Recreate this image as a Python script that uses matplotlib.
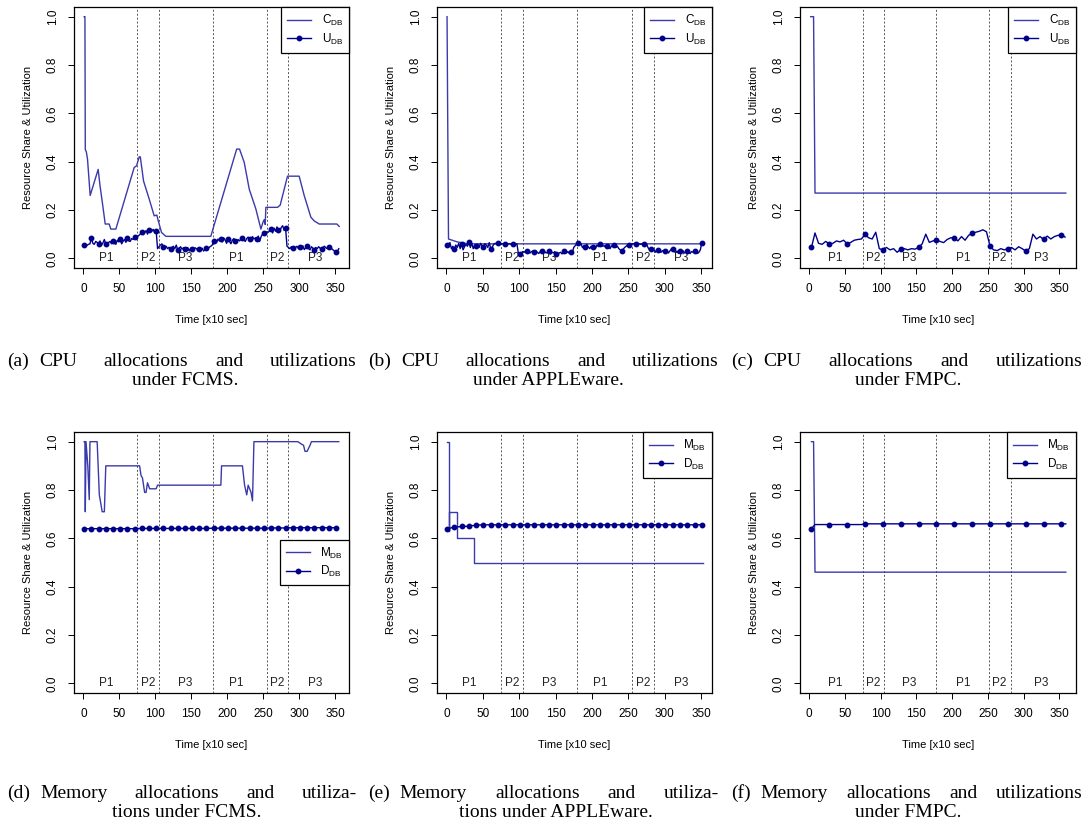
import numpy as np
import matplotlib
matplotlib.use("Agg")
import matplotlib.pyplot as plt
from matplotlib.lines import Line2D

plt.rcParams['font.family'] = ['Liberation Sans', 'DejaVu Sans']
plt.rcParams['mathtext.default'] = 'regular'

W, H = 1089, 825
C_COL = '#3a3aaa'
U_COL = '#00008b'

phase_names = ['P1', 'P2', 'P3', 'P1', 'P2', 'P3']
phase_lines = [75, 105, 180, 255, 285]
phase_lines_fmpc = [75, 104, 178, 252, 282]
phase_text_x = [32, 90, 142, 212, 270, 322]
phase_text_x_fmpc = [37, 89, 140, 215, 266, 325]

# (a) CPU under FCMS
fcms_cpu_x = [1, 2, 2.5, 4, 5.6, 9.3, 20.4, 23, 26.5, 30.2, 35.7, 38, 45, 70.5, 73.8, 77.5, 79,
              83.5, 91.4, 98.3, 102, 103.9, 108.5, 114.6, 177, 213, 217, 223.5, 230.5, 239.7,
              246.7, 249.5, 251.3, 252.7, 253.6, 269.8, 273.5, 283.7, 299.9, 306.9, 316.2,
              320.8, 327.8, 352.3, 355.6]
fcms_cpu = [1.0, 1.0, 0.45, 0.44, 0.41, 0.26, 0.368, 0.30, 0.225, 0.142, 0.142, 0.121, 0.121,
            0.376, 0.383, 0.42, 0.42, 0.32, 0.245, 0.176, 0.179, 0.156, 0.107, 0.091, 0.091,
            0.452, 0.452, 0.397, 0.286, 0.204, 0.121, 0.149, 0.16, 0.14, 0.211, 0.211, 0.22,
            0.34, 0.34, 0.26, 0.17, 0.155, 0.142, 0.142, 0.132]
fcms_util_x = np.arange(1, 356, 2)
fcms_util = [
    0.055, 0.056, 0.054, 0.058, 0.060, 0.085, 0.062, 0.058, 0.070, 0.066,
    0.060, 0.072, 0.055, 0.064, 0.078, 0.058, 0.050, 0.066, 0.070, 0.060,
    0.072, 0.062, 0.058, 0.075, 0.068, 0.082, 0.060, 0.070, 0.078, 0.066,
    0.085, 0.072, 0.070, 0.082, 0.078, 0.088, 0.080, 0.090, 0.095, 0.100,
    0.110, 0.098, 0.105, 0.115, 0.100, 0.118, 0.108, 0.112, 0.120, 0.105,
    0.115, 0.040, 0.048, 0.055, 0.060, 0.045, 0.042, 0.050, 0.040, 0.046,
    0.038, 0.045, 0.050, 0.040, 0.055, 0.035, 0.042, 0.048, 0.038, 0.044,
    0.040, 0.036, 0.045, 0.030, 0.042, 0.038, 0.034, 0.044, 0.040, 0.032,
    0.040, 0.035, 0.042, 0.030, 0.038, 0.044, 0.040, 0.046, 0.050, 0.055,
    0.070, 0.075, 0.065, 0.080, 0.072, 0.078, 0.068, 0.085, 0.075, 0.062,
    0.080, 0.070, 0.060, 0.075, 0.082, 0.070, 0.066, 0.078, 0.072, 0.080,
    0.085, 0.075, 0.070, 0.082, 0.088, 0.078, 0.072, 0.090, 0.080, 0.085,
    0.078, 0.092, 0.070, 0.090, 0.100, 0.105, 0.098, 0.110, 0.108, 0.115,
    0.120, 0.105, 0.125, 0.112, 0.130, 0.118, 0.110, 0.128, 0.135, 0.115,
    0.125, 0.050, 0.045, 0.040, 0.048, 0.042, 0.038, 0.045, 0.050, 0.040,
    0.046, 0.040, 0.052, 0.036, 0.044, 0.050, 0.040, 0.035, 0.048, 0.042,
    0.036, 0.045, 0.040, 0.048, 0.042, 0.038, 0.046, 0.050, 0.044, 0.040,
    0.048, 0.052, 0.040, 0.035, 0.030, 0.025, 0.028, 0.040]

# (b) CPU under APPLEware
apple_cpu_x = [1, 3, 15, 30, 351]
apple_cpu = [1.0, 0.08, 0.068, 0.06, 0.06]
apple_util_x = np.arange(1, 352, 2)
apple_util = [
    0.055, 0.060, 0.065, 0.040, 0.050, 0.038, 0.055, 0.045, 0.062, 0.040,
    0.060, 0.035, 0.048, 0.058, 0.050, 0.068, 0.045, 0.062, 0.040, 0.055,
    0.050, 0.058, 0.045, 0.062, 0.050, 0.048, 0.060, 0.055, 0.045, 0.065,
    0.040, 0.045, 0.058, 0.062, 0.060, 0.062, 0.060, 0.058, 0.060, 0.060,
    0.060, 0.058, 0.060, 0.060, 0.058, 0.060, 0.060, 0.058, 0.060, 0.020,
    0.020, 0.022, 0.028, 0.025, 0.030, 0.030, 0.025, 0.022, 0.028, 0.030,
    0.025, 0.032, 0.025, 0.020, 0.028, 0.030, 0.025, 0.028, 0.022, 0.025,
    0.030, 0.018, 0.025, 0.022, 0.028, 0.020, 0.015, 0.022, 0.025, 0.018,
    0.030, 0.025, 0.022, 0.028, 0.020, 0.025, 0.022, 0.045, 0.052, 0.058,
    0.065, 0.055, 0.060, 0.045, 0.052, 0.045, 0.058, 0.048, 0.040, 0.050,
    0.045, 0.050, 0.042, 0.055, 0.048, 0.060, 0.055, 0.050, 0.052, 0.045,
    0.050, 0.055, 0.040, 0.052, 0.048, 0.055, 0.045, 0.050, 0.040, 0.035,
    0.030, 0.038, 0.045, 0.050, 0.055, 0.055, 0.058, 0.060, 0.060, 0.062,
    0.060, 0.062, 0.060, 0.058, 0.060, 0.060, 0.062, 0.060, 0.045, 0.035,
    0.040, 0.030, 0.038, 0.025, 0.035, 0.035, 0.030, 0.025, 0.032, 0.028,
    0.030, 0.035, 0.022, 0.030, 0.038, 0.040, 0.028, 0.025, 0.030, 0.020,
    0.030, 0.025, 0.032, 0.022, 0.028, 0.030, 0.025, 0.020, 0.028, 0.025,
    0.030, 0.028, 0.020, 0.025, 0.035, 0.065]

# (c) CPU under FMPC
fmpc_cpu_x = [2, 6, 8, 359]
fmpc_cpu = [1.0, 1.0, 0.27, 0.27]
fmpc_util_x = np.arange(3, 360, 5)
fmpc_util = [
    0.045, 0.105, 0.062, 0.058, 0.070, 0.060, 0.062, 0.072, 0.068, 0.075,
    0.060, 0.066, 0.075, 0.078, 0.080, 0.100, 0.085, 0.080, 0.108, 0.040,
    0.035, 0.045, 0.035, 0.040, 0.025, 0.038, 0.040, 0.035, 0.040, 0.038,
    0.045, 0.060, 0.100, 0.066, 0.072, 0.075, 0.070, 0.065, 0.078, 0.085,
    0.085, 0.072, 0.090, 0.075, 0.095, 0.105, 0.108, 0.112, 0.118, 0.110,
    0.050, 0.035, 0.032, 0.040, 0.035, 0.040, 0.045, 0.035, 0.048, 0.040,
    0.030, 0.040, 0.100, 0.080, 0.090, 0.078, 0.092, 0.080, 0.090, 0.095,
    0.097, 0.088]

# (d) memory under FCMS
fcms_mem_x = [1, 2, 2.5, 3.5, 6, 8, 9, 19, 22, 26, 29, 31, 78, 80, 82, 85, 87, 89, 92, 101, 103,
              191, 192, 221, 224, 227, 229, 233, 235, 237, 298, 303, 306, 308, 311, 315, 317, 355]
fcms_mem = [1.0, 1.0, 0.71, 1.0, 0.90, 0.76, 1.0, 1.0, 0.78, 0.71, 0.71, 0.90, 0.90, 0.86, 0.85,
            0.79, 0.79, 0.83, 0.805, 0.805, 0.82, 0.82, 0.90, 0.90, 0.82, 0.78, 0.82, 0.79, 0.755,
            1.0, 1.0, 0.99, 0.985, 0.96, 0.96, 0.985, 1.0, 1.0]
fcms_disk_x = np.arange(1, 356, 10)
fcms_disk = [0.640, 0.640, 0.640, 0.640, 0.640, 0.640, 0.640, 0.640, 0.641, 0.641,
             0.641, 0.641, 0.641, 0.641, 0.641, 0.641, 0.641, 0.641, 0.642, 0.642,
             0.642, 0.642, 0.642, 0.642, 0.642, 0.642, 0.643, 0.643, 0.643, 0.644,
             0.644, 0.644, 0.644, 0.644, 0.644, 0.644]

# (e) memory under APPLEware
apple_mem_x = [1, 3, 4, 15, 38, 352]
apple_mem = [1.0, 0.63, 0.71, 0.60, 0.50, 0.50]
apple_disk_x = np.arange(1, 352, 10)
apple_disk = [0.640, 0.646, 0.649, 0.650, 0.655, 0.656, 0.656, 0.656, 0.656, 0.656,
              0.656, 0.656, 0.656, 0.656, 0.656, 0.656, 0.656, 0.656, 0.656, 0.656,
              0.656, 0.656, 0.656, 0.656, 0.656, 0.656, 0.656, 0.656, 0.656, 0.656,
              0.656, 0.656, 0.656, 0.656, 0.656, 0.656]

# (f) memory under FMPC
fmpc_mem_x = [3, 6, 8, 359]
fmpc_mem = [1.0, 1.0, 0.46, 0.46]
fmpc_disk_x = [3, 8, 28, 53, 73, 78, 103, 128, 153, 178, 203, 228, 253, 278, 303, 328, 353, 359]
fmpc_disk = [0.640, 0.657, 0.657, 0.657, 0.657, 0.660, 0.660, 0.660, 0.660, 0.660, 0.660,
             0.660, 0.660, 0.660, 0.660, 0.660, 0.660, 0.660]

captions = [
    ("(a)", "CPU allocations and utilizations", "under FCMS."),
    ("(b)", "CPU allocations and utilizations", "under APPLEware."),
    ("(c)", "CPU allocations and utilizations", "under FMPC."),
    ("(d)", "Memory allocations and utiliza-", "tions under FCMS."),
    ("(e)", "Memory allocations and utiliza-", "tions under APPLEware."),
    ("(f)", "Memory allocations and utilizations", "under FMPC."),
]


def px_rect(l, t, r, b):
    return [l / W, 1 - b / H, (r - l) / W, (b - t) / H]


def setup(ax, xlim, vlines, text_x):
    ax.set_xlim(*xlim)
    ax.set_ylim(-0.04, 1.04)
    for v in vlines:
        ax.axvline(v, color='#555555', ls=(0, (2, 2)), lw=0.7, zorder=1)
    for px, name in zip(text_x, phase_names):
        ax.text(px, 0.0, name, ha='center', va='center', fontsize=8.5, color='#222222')
    ax.set_xticks(range(0, 351, 50))
    ax.set_yticks([0, 0.2, 0.4, 0.6, 0.8, 1.0])
    ax.set_yticklabels(['0.0', '0.2', '0.4', '0.6', '0.8', '1.0'], rotation=90, va='center')
    ax.tick_params(direction='out', length=4, width=0.7, labelsize=8.5)
    ax.tick_params(axis='x', pad=7)
    ax.tick_params(axis='y', pad=7)
    for s in ax.spines.values():
        s.set_linewidth(0.9)
    ax.set_xlabel('Time [x10 sec]', fontsize=8, labelpad=14)
    ax.set_ylabel('Resource Share & Utilization', fontsize=8, labelpad=10)


def add_legend(ax, lab1, lab2, loc):
    h = [Line2D([], [], color=C_COL, lw=1.0),
         Line2D([], [], color=U_COL, lw=1.0, marker='o', ms=3.2)]
    leg = ax.legend(h, [lab1, lab2], loc=loc, borderaxespad=0, fancybox=False,
                    edgecolor='black', fontsize=8.5, handlelength=2.0, handletextpad=0.9,
                    labelspacing=0.3, borderpad=0.5, framealpha=1)
    leg.get_frame().set_linewidth(0.9)
    leg.set_zorder(5)


fig = plt.figure(figsize=(W / 100, H / 100), dpi=100)

cols = [(74, 349), (437, 712), (800, 1076)]
rows = [(7, 268), (432, 693)]
xlims = [(-13.2, 369.2), (-12.8, 365), (-13, 373.3)]
vl = [phase_lines, phase_lines, phase_lines_fmpc]
tx = [phase_text_x, phase_text_x, phase_text_x_fmpc]

cpu_alloc = [(fcms_cpu_x, fcms_cpu), (apple_cpu_x, apple_cpu), (fmpc_cpu_x, fmpc_cpu)]
cpu_util = [(fcms_util_x, fcms_util, 5), (apple_util_x, apple_util, 5), (fmpc_util_x, fmpc_util, 5)]
mem_alloc = [(fcms_mem_x, fcms_mem), (apple_mem_x, apple_mem), (fmpc_mem_x, fmpc_mem)]
mem_disk = [(fcms_disk_x, fcms_disk, 1), (apple_disk_x, apple_disk, 1),
            (fmpc_disk_x, fmpc_disk, [i for i, v in enumerate(fmpc_disk_x) if (v - 3) % 25 == 0])]

for j in range(3):
    ax = fig.add_axes(px_rect(cols[j][0], rows[0][0], cols[j][1], rows[0][1]))
    setup(ax, xlims[j], vl[j], tx[j])
    ax.plot(cpu_alloc[j][0], cpu_alloc[j][1], color=C_COL, lw=1.0, zorder=3)
    x, y, me = cpu_util[j]
    ax.plot(x, y, color=U_COL, lw=1.0, marker='o', ms=3.2, markevery=me, zorder=4)
    add_legend(ax, r'C$_{DB}$', r'U$_{DB}$', 'upper right')

    ax = fig.add_axes(px_rect(cols[j][0], rows[1][0], cols[j][1], rows[1][1]))
    setup(ax, xlims[j], vl[j], tx[j])
    ds = 'steps-post' if j == 1 else 'default'
    ax.plot(mem_alloc[j][0], mem_alloc[j][1], color=C_COL, lw=1.0, drawstyle=ds, zorder=3)
    x, y, me = mem_disk[j]
    ax.plot(x, y, color=U_COL, lw=1.0, marker='o', ms=3.2, markevery=me, zorder=4)
    add_legend(ax, r'M$_{DB}$', r'D$_{DB}$', 'center right' if j == 0 else 'upper right')

# captions: label, then the rest of the first line justified; second line centred
renderer = fig.canvas.get_renderer()
line1_span = [(7, 357), (368, 719), (731, 1083)]
line2_center = [[185, 548, 908], [187, 556, 908]]
line_base = [(366, 385), (798, 817)]
cap_size = 14
for i, (lab, l1, l2) in enumerate(captions):
    r, c = divmod(i, 3)
    x0, x1 = line1_span[c]
    yb = 1 - line_base[r][0] / H
    lt = fig.text(x0 / W, yb, lab, fontsize=cap_size, family='Liberation Serif')
    start = x0 + lt.get_window_extent(renderer).width + 10
    words = l1.split(' ')
    ts = [fig.text(0, 0, w, fontsize=cap_size, family='Liberation Serif') for w in words]
    ws = [t.get_window_extent(renderer).width for t in ts]
    gap = (x1 - start - sum(ws)) / (len(words) - 1)
    xp = start
    for t, w in zip(ts, ws):
        t.set_position((xp / W, yb))
        xp += w + gap
    fig.text(line2_center[r][c] / W, 1 - line_base[r][1] / H, l2, fontsize=cap_size,
             family='Liberation Serif', ha='center')

fig.savefig('out.png', dpi=100)
